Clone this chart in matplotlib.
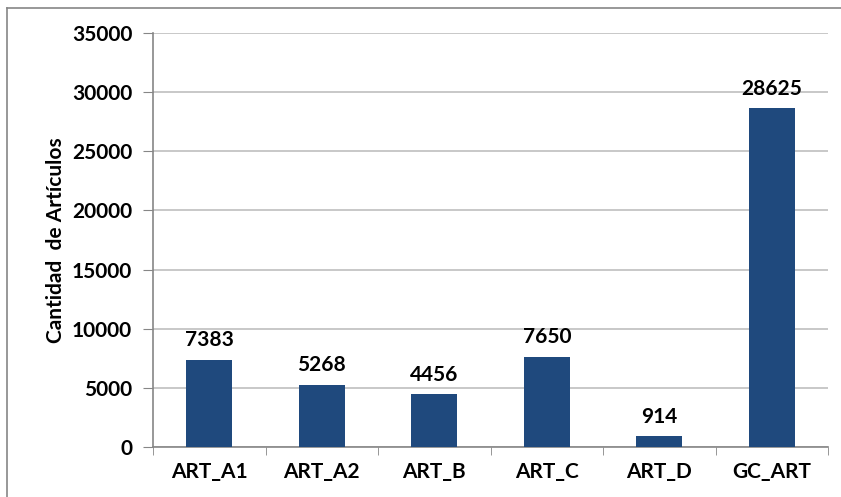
import matplotlib.pyplot as plt
import numpy as np
from matplotlib.lines import Line2D

# Data
categories = ['ART_A1', 'ART_A2', 'ART_B', 'ART_C', 'ART_D', 'GC_ART']
values = [7383, 5268, 4456, 7650, 914, 28625]
y_ticks = [0, 5000, 10000, 15000, 20000, 25000, 30000, 35000]

plt.rcParams['font.family'] = ['Lato', 'DejaVu Sans']

fig = plt.figure(figsize=(8.41, 4.97), dpi=100)
ax = fig.add_axes([153 / 841, 1 - 447 / 497, 675 / 841, 414 / 497])

x = np.arange(len(categories))
ax.bar(x, values, width=0.41, color='#1F497D', zorder=3)

# value labels
for xi, v in zip(x, values):
    ax.text(xi, v + 800, str(v), ha='center', va='bottom',
            fontsize=15, fontweight='bold', color='black')

ax.set_xlim(-0.5, len(categories) - 0.5)
ax.set_ylim(0, 35000)
ax.set_yticks(y_ticks)
ax.set_yticklabels([str(t) for t in y_ticks], fontsize=15, fontweight='bold')
ax.set_xticks(x)
ax.set_xticklabels(categories, fontsize=15, fontweight='bold')
ax.set_xticks(np.arange(-0.5, len(categories)), minor=True)
ax.tick_params(axis='x', which='major', length=0, pad=11)
ax.tick_params(axis='x', which='minor', length=6, color='#868686', direction='out')
ax.tick_params(axis='y', length=7, color='#868686', pad=8)

ax.yaxis.grid(True, color='#BFBFBF', linewidth=1.2, zorder=0)
ax.set_axisbelow(True)
for s in ['top', 'right']:
    ax.spines[s].set_visible(False)
for s in ['left', 'bottom']:
    ax.spines[s].set_color('#868686')
    ax.spines[s].set_linewidth(1.2)

ax.set_ylabel('Cantidad  de Artículos', fontsize=15, fontweight='bold', labelpad=4)

# outer chart border (cropped on right and bottom)
fig.add_artist(Line2D([7 / 841, 7 / 841], [0, 1 - 8 / 497], transform=fig.transFigure,
                      color='#868686', linewidth=1.2))
fig.add_artist(Line2D([7 / 841, 1], [1 - 8 / 497, 1 - 8 / 497], transform=fig.transFigure,
                      color='#868686', linewidth=1.2))

fig.savefig('out.png', dpi=100)
